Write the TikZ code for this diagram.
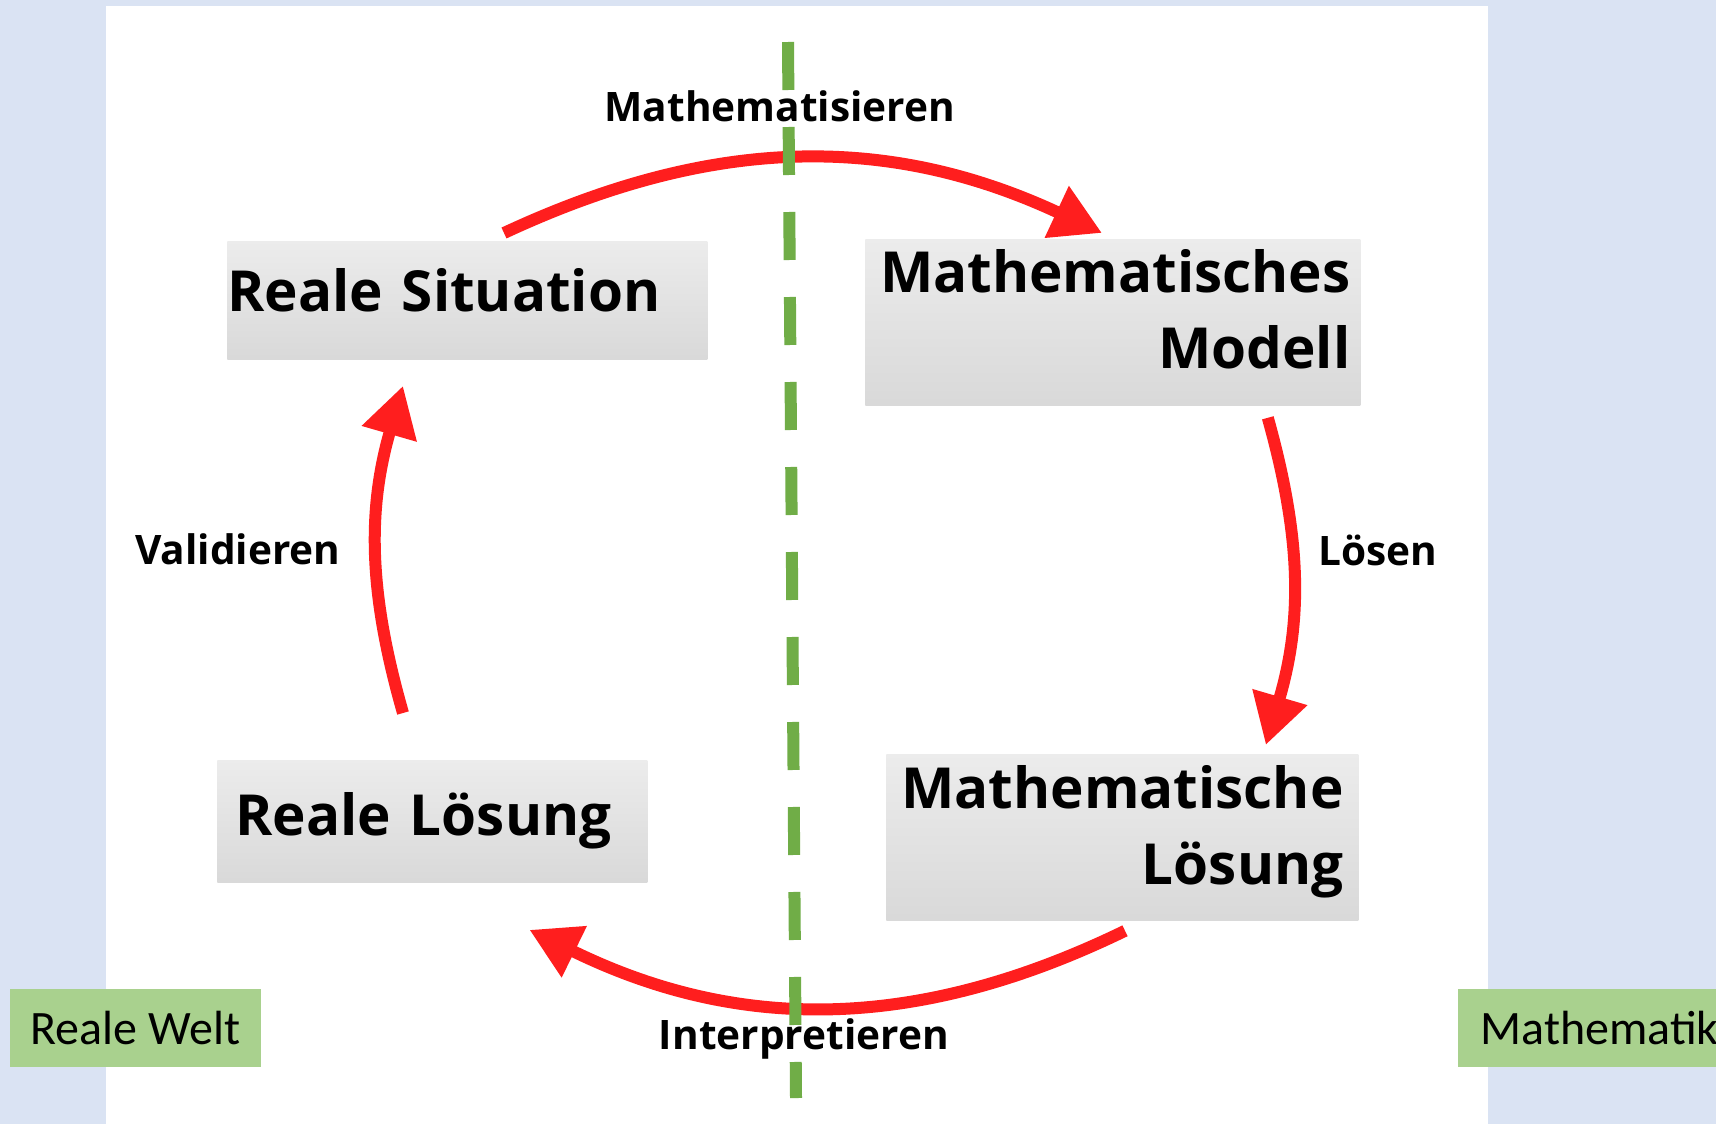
\documentclass[tikz,border=0pt]{standalone}
\usepackage{fontspec}
\setmainfont{Open Sans}
\newfontfamily\calibrifont{Carlito}
\usetikzlibrary{arrows.meta, positioning, calc}
\definecolor{worldbg}{RGB}{218,227,243}
\definecolor{tagfill}{RGB}{169,209,142}
\definecolor{splitgreen}{RGB}{112,173,71}
\definecolor{cyclered}{RGB}{255,30,30}
\tikzset{
  stage/.style={rectangle, top color=gray!15, bottom color=gray!30, anchor=north west,
    inner ysep=0pt, text height=20pt, font=\fontsize{28.3}{38}\selectfont\bfseries},
  steplabel/.style={inner sep=0pt, text=black, font=\fontsize{20.3}{24}\selectfont\bfseries},
  worldtag/.style={rectangle, fill=tagfill, minimum height=39pt, inner sep=0pt,
    font=\calibrifont\fontsize{24}{28}\selectfont},
  cyc/.style={-{Triangle[length=25pt,width=27pt]}, line width=6pt, cyclered},
  divider/.style={splitgreen, line width=6pt, dash pattern=on 24pt off 18.5pt},
}

\begin{document}
\begin{tikzpicture}[x=0.5pt, y=-0.5pt]

% ── Canvas ──
\useasboundingbox (0,0) rectangle (1716,1124);
\fill[worldbg] (0,0) rectangle (1716,1124);
\fill[white] (106,6) rectangle (1488,1124);

% ── The four stages ──
\node[stage, text width=240pt, inner xsep=0pt, minimum height=59pt, text depth=9pt, align=left] (sit) at (227,241) {Reale Situation};
\node[stage, text width=237.5pt, inner xsep=5pt, minimum height=83pt, text depth=50pt, align=right] (model) at (865,239) {Mathematisches\\Modell};
\node[stage, text width=197pt, inner xsep=9pt, minimum height=61pt, text depth=6pt, align=left] (realsol) at (217,760) {Reale Lösung};
\node[stage, text width=221pt, inner xsep=7.5pt, minimum height=83pt, text depth=49pt, align=right] (mathsol) at (886,754) {Mathematische\\Lösung};

% ── World tags ──
\node[worldtag, minimum width=125.5pt] (realtag) at (135.5,1028) {Reale Welt};
\node[worldtag, anchor=west, text width=130pt, inner xsep=11pt, align=left] (mathtag) at (1458,1028) {Mathematik};

% ── Cycle ──
\draw[cyc] ($(sit.north west)+(277,-8)$) to[bend left=25]
  node[steplabel, pos=0.46, above=16pt] (mathlbl) {Mathematisieren} ($(model.north west)+(237,-6)$);
\draw[cyc] ($(model.south east)+(-93,12)$) to[bend left=16]
  node[steplabel, pos=0.4, right=10pt] (solvelbl) {Lösen} ($(mathsol.north east)+(-93,-9)$);
\draw[cyc] ($(mathsol.south west)+(239,10)$) to[bend left=26]
  node[steplabel, pos=0.54, below=3pt] (interplbl) {Interpretieren} ($(realsol.south)+(97,47)$);
\draw[cyc] ($(realsol.north west)+(186,-47)$) to[bend left=16]
  node[steplabel, pos=0.5, left=15pt] (validlbl) {Validieren} ($(sit.south west)+(176,26)$);

% ── Dividing line ──
\coordinate (splittop) at (788,42);
\coordinate (splitbot) at (796,1098);
\draw[divider] (splittop) -- (splitbot);

\end{tikzpicture}
\end{document}
